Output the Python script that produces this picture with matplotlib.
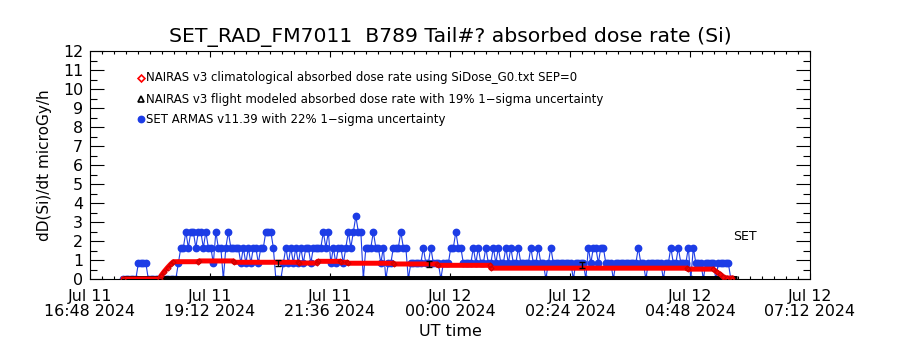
import numpy as np
import matplotlib
matplotlib.use("Agg")
import matplotlib.pyplot as plt
from matplotlib.ticker import MultipleLocator, FixedLocator

# ---------------- data (hours since 2024-07-11 00:00 UT) ----------------
title = "SET_RAD_FM7011  B789 Tail#? absorbed dose rate (Si)"
x_tick_hours = [16.8, 19.2, 21.6, 24.0, 26.4, 28.8, 31.2]
x_tick_labels = ["Jul 11\n16:48 2024", "Jul 11\n19:12 2024", "Jul 11\n21:36 2024",
                 "Jul 12\n00:00 2024", "Jul 12\n02:24 2024", "Jul 12\n04:48 2024",
                 "Jul 12\n07:12 2024"]
y_ticks = [0, 1, 2, 3, 4, 5, 6, 7, 8, 9, 10, 11, 12]

legend_labels = ["NAIRAS v3 climatological absorbed dose rate using SiDose_G0.txt SEP=0",
                 "NAIRAS v3 flight modeled absorbed dose rate with 19% 1\u2212sigma uncertainty",
                 "SET ARMAS v11.39 with 22% 1\u2212sigma uncertainty"]

# NAIRAS climatological (red)
red_hours = [17.467, 18.2, 18.217, 18.283, 18.35, 18.417, 18.467, 18.967, 18.983, 19.667,
             19.683, 20.967, 20.983, 21.333, 21.35, 21.8, 21.817, 21.933, 21.95, 22.867,
             22.883, 23.733, 23.75, 24.8, 24.817, 28.733, 28.75, 29.267, 29.333, 29.4,
             29.467, 29.533, 29.633]
red_rate = [0.0, 0.0, 0.16, 0.39, 0.60, 0.79, 0.91, 0.91, 0.95, 0.95,
            0.88, 0.88, 0.84, 0.84, 0.93, 0.93, 0.88, 0.88, 0.83, 0.83,
            0.79, 0.79, 0.72, 0.72, 0.57, 0.57, 0.52, 0.52, 0.37, 0.26,
            0.12, 0.05, 0.05]

# NAIRAS flight modeled (black, with 19% uncertainty)
flight_hours = [20.55, 23.58, 26.63]
flight_rate = [0.86, 0.79, 0.74]
flight_rel_err = 0.19
flight_zero_span = [17.467, 29.733]

# SET ARMAS (blue), 3-minute samples starting 17:28 UT
blue_t0_hours = 17.0 + 28.0 / 60.0
blue_step_hours = 3.0 / 60.0
blue_rate = [
    0, 0, 0, 0, 0, 0, 0.83, 0.83, 0.83, 0.83,
    0, 0, 0, 0, 0, 0, 0, 0, 0, 0,
    0, 0, 0.83, 1.65, 1.65, 2.48, 1.65, 2.48, 2.48, 1.65,
    2.48, 2.48, 1.65, 2.48, 1.65, 1.65, 0.83, 2.48, 1.65, 1.65,
    0, 1.65, 2.48, 1.65, 1.65, 1.65, 1.65, 0.83, 1.65, 0.83,
    1.65, 0.83, 1.65, 1.65, 0.83, 1.65, 1.65, 2.48, 2.48, 2.48,
    1.65, 0, 0, 0, 0.83, 1.65, 0.83, 1.65, 0.83, 1.65,
    0.83, 1.65, 0.83, 1.65, 1.65, 0.83, 1.65, 1.65, 1.65, 1.65,
    2.48, 1.65, 2.48, 0.83, 1.65, 0.83, 1.65, 1.65, 0.83, 1.65,
    2.48, 1.65, 2.48, 3.3, 2.48, 2.48, 0, 1.65, 1.65, 1.65,
    2.48, 1.65, 1.65, 0.83, 1.65, 0, 0.83, 0.83, 1.65, 1.65,
    1.65, 2.48, 1.65, 1.65, 0, 0.83, 0.83, 0.83, 0.83, 0.83,
    1.65, 0.83, 0.83, 1.65, 0.83, 0.83, 0.83, 0, 0.83, 0.83,
    0.83, 1.65, 1.65, 2.48, 1.65, 1.65, 0.83, 0.83, 0.83, 0.83,
    1.65, 0.83, 1.65, 0.83, 0.83, 1.65, 0.83, 0.83, 1.65, 0.83,
    1.65, 0.83, 0.83, 1.65, 0.83, 1.65, 0.83, 0.83, 1.65, 0.83,
    0.83, 0.83, 0.83, 1.65, 0.83, 0.83, 1.65, 0.83, 0.83, 0,
    0.83, 1.65, 0.83, 0.83, 0.83, 0.83, 0.83, 0.83, 0.83, 0.83,
    0, 0.83, 0.83, 0.83, 0.83, 0, 1.65, 0.83, 1.65, 1.65,
    0.83, 1.65, 1.65, 0.83, 0.83, 0.83, 0, 0.83, 0.83, 0.83,
    0.83, 0.83, 0.83, 0.83, 0.83, 0.83, 1.65, 0.83, 0.83, 0,
    0.83, 0.83, 0.83, 0.83, 0.83, 0.83, 0, 0.83, 0.83, 1.65,
    0.83, 0.83, 1.65, 0.83, 0.83, 0.83, 1.65, 0, 1.65, 0.83,
    0.83, 0.83, 0, 0.83, 0.83, 0.83, 0.83, 0, 0.83, 0.83,
    0.83, 0.83, 0.83, 0,
]
blue_hours = blue_t0_hours + blue_step_hours * np.arange(len(blue_rate))

# ---------------- figure ----------------
plt.rcParams['font.family'] = ['DejaVu Sans']
fig = plt.figure(figsize=(9, 3.5), dpi=100)
ax = fig.add_axes([90 / 900, 71 / 350, 720 / 900, 228 / 350])

BLUE = '#1c3ce6'
RED = '#ff0000'

ax.plot(blue_hours, blue_rate, '-', color=BLUE, lw=0.8, marker='o', ms=4.6,
        mfc=BLUE, mec=BLUE, zorder=2)
ax.plot(flight_zero_span, [0, 0], '-', color='black', lw=5, solid_capstyle='butt', zorder=2.5)
ax.plot(red_hours, red_rate, '-', color=RED, lw=3.6, marker='D', ms=2.6,
        mfc='none', mec='#d00000', mew=0.8, zorder=3)
ax.errorbar(flight_hours, flight_rate, yerr=np.array(flight_rate) * flight_rel_err,
            fmt='none', ecolor='black', elinewidth=1.0, capsize=2.4, capthick=1.0, zorder=5)

ax.set_xlim(16.8, 31.2)
ax.set_ylim(0, 12)

ax.xaxis.set_major_locator(FixedLocator(x_tick_hours))
ax.set_xticklabels(x_tick_labels, fontsize=11.4, linespacing=1.05)
ax.xaxis.set_minor_locator(MultipleLocator(0.24))
ax.yaxis.set_major_locator(FixedLocator(y_ticks))
ax.set_yticklabels([str(v) for v in y_ticks], fontsize=11.4)
ax.yaxis.set_minor_locator(MultipleLocator(0.5))

ax.tick_params(axis='x', which='major', direction='in', length=4, width=0.8,
               top=True, bottom=True, pad=7)
ax.tick_params(axis='x', which='minor', direction='in', length=2.5, width=0.8,
               top=True, bottom=True)
ax.tick_params(axis='y', which='major', direction='in', length=10, width=0.8,
               left=True, right=True, pad=5)
ax.tick_params(axis='y', which='minor', direction='in', length=5, width=0.8,
               left=True, right=True)
for s in ax.spines.values():
    s.set_linewidth(0.8)

ax.set_title(title, fontsize=14.7, y=(279 - 37) / 228, va='center', pad=0)
ax.set_ylabel("dD(Si)/dt microGy/h", fontsize=11, va='center')
ax.yaxis.set_label_coords(-0.0625, 0.5)
ax.set_xlabel("UT time", fontsize=11.5, va='center')
ax.xaxis.set_label_coords(0.5, (279 - 331) / 228)

# legend (IDL style, text with symbols)
leg_y = [(279 - 78) / 228, (279 - 99) / 228, (279 - 119) / 228]
leg_sym = [dict(marker='D', ms=3.5, mfc='white', mec=RED, mew=1.2),
           dict(marker='^', ms=4.5, mfc='white', mec='black', mew=1.2),
           dict(marker='o', ms=4.6, mfc=BLUE, mec=BLUE)]
for lbl, yy, sym in zip(legend_labels, leg_y, leg_sym):
    ax.plot([(141 - 90) / 720], [yy], transform=ax.transAxes, ls='none',
            clip_on=False, **sym)
    ax.text((146 - 90) / 720, yy, lbl, transform=ax.transAxes, fontsize=8.5,
            ha='left', va='center')

ax.text((733 - 90) / 720, (279 - 237) / 228, "SET", transform=ax.transAxes,
        fontsize=9, ha='left', va='center')

fig.savefig("out.png", dpi=100)
